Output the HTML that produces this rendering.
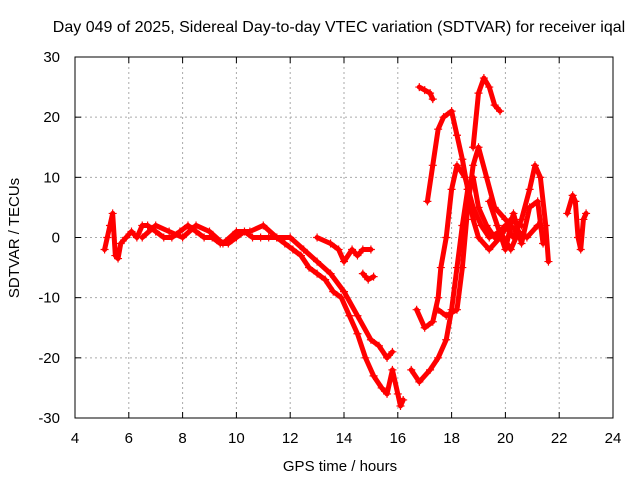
<!DOCTYPE html>
<html><head><meta charset="utf-8"><style>
body{margin:0;background:#fff;font-family:"Liberation Sans",sans-serif}
svg{display:block}
text{font-family:"Liberation Sans",sans-serif;font-size:15px;fill:#000}
</style></head><body>
<svg width="640" height="480">
<rect width="640" height="480" fill="#fff"/>
<text x="339" y="32" text-anchor="middle" style="font-size:16px">Day 049 of 2025, Sidereal Day-to-day VTEC variation (SDTVAR) for receiver iqal</text>
<g id="grid"></g>
<g id="axes"></g>
<g id="marks"></g>
<rect x="75" y="57" width="538" height="361" fill="none" stroke="#000" stroke-width="1"/>
<text x="340" y="471" text-anchor="middle">GPS time / hours</text>
<text transform="translate(19,238) rotate(-90)" text-anchor="middle">SDTVAR / TECUs</text>
</svg>
<script>
const xTicks=[4,6,8,10,12,14,16,18,20,22,24];
const yTicks=[-30,-20,-10,0,10,20,30];
const trackA=[[5.1,-2],[5.2,0],[5.3,2],[5.4,4],[5.5,-3],[5.6,-3.5],[5.7,-1],[5.9,0],[6.1,1],[6.3,0],[6.5,2],[6.7,2],[7,1],[7.3,0],[7.6,0],[7.9,1],[8.2,2],[8.5,1],[8.8,0],[9.1,0],[9.4,-1],[9.7,-1],[10,0],[10.3,1],[10.6,0],[10.9,0],[11.2,0],[11.5,0],[11.8,-1],[12.1,-2],[12.4,-3],[12.7,-5],[13,-6],[13.3,-7],[13.6,-9],[13.9,-10],[14.2,-13],[14.5,-16],[14.8,-20],[15.1,-23],[15.4,-25],[15.6,-26],[15.8,-22],[16,-26],[16.1,-28],[16.2,-27]];
const trackB=[[6.5,0],[7,2],[7.5,1],[8,0],[8.5,2],[9,1],[9.5,-1],[10,1],[10.5,1],[11,2],[11.5,0],[12,0],[12.5,-2],[13,-4],[13.5,-6],[14,-9],[14.5,-13],[15,-17],[15.3,-18],[15.6,-20],[15.8,-19]];
const trackC=[[13,0],[13.5,-1],[13.8,-2],[14,-4],[14.3,-2],[14.5,-3],[14.7,-2],[15,-2]];
const trackD=[[14.7,-6],[14.9,-7],[15.1,-6.5]];
const trackE=[[16.8,25],[17,24.5],[17.2,24],[17.3,23]];
const trackF=[[16.5,-22],[16.8,-24],[17.2,-22],[17.5,-20],[17.8,-17],[18,-12],[18.2,-5],[18.4,2],[18.6,8],[18.8,10],[19,5],[19.3,2],[19.6,0],[20,2],[20.3,0],[20.6,3],[20.9,8],[21.1,12],[21.3,10],[21.5,2],[21.6,-4]];
const trackG=[[16.7,-12],[17,-15],[17.3,-14],[17.5,-10],[17.6,-5],[17.8,0],[18,8],[18.2,12],[18.5,10],[18.8,5],[19.1,2],[19.4,0],[19.8,1],[20.2,-2],[20.5,1]];
const trackH=[[17.1,6],[17.3,12],[17.5,18],[17.7,20],[18,21],[18.2,17],[18.4,13],[18.6,8],[18.8,3],[19,0],[19.4,-2],[19.8,0],[20.2,3],[20.6,2]];
const trackI=[[18.8,15],[19,24],[19.2,26.5],[19.4,25],[19.6,22],[19.8,21]];
const trackJ=[[17.5,-12],[17.8,-13],[18.2,-12],[18.4,-5],[18.6,5],[18.8,12],[19,15],[19.3,10],[19.6,5],[20,3],[20.4,1],[20.8,0],[21.2,2]];
const trackK=[[22.3,4],[22.5,7],[22.6,6],[22.7,0],[22.8,-2],[22.9,3],[23,4]];
const trackL=[[19.4,6],[19.7,2],[20,-2],[20.3,4],[20.6,-1],[20.9,5],[21.2,6],[21.4,-1]];
const tracks=[trackA,trackB,trackC,trackD,trackE,trackF,trackG,trackH,trackI,trackJ,trackK,trackL];
const X=v=>75+(v-4)*(538/20), Y=v=>418-(v+30)*(361/60);
const NS='http://www.w3.org/2000/svg';
const g=document.getElementById('grid'),ax=document.getElementById('axes'),m=document.getElementById('marks');
function mk(t,a,p){const e=document.createElementNS(NS,t);for(const k in a)e.setAttribute(k,a[k]);p.appendChild(e);return e;}
xTicks.forEach(v=>{
 if(v>4&&v<24){const l=mk('line',{x1:X(v),x2:X(v),y1:57,y2:418,stroke:'#aaa','stroke-dasharray':'2,3'},g);
 
 }
 mk('line',{x1:X(v),x2:X(v),y1:418,y2:412,stroke:'#000'},ax);
 mk('line',{x1:X(v),x2:X(v),y1:57,y2:63,stroke:'#000'},ax);
 const t=mk('text',{x:X(v),y:443,'text-anchor':'middle'},ax);t.textContent=v;
 
 
});
yTicks.forEach(v=>{
 if(v>-30&&v<30){const l=mk('line',{x1:75,x2:613,y1:Y(v),y2:Y(v),stroke:'#aaa','stroke-dasharray':'2,3'},g);
 
 }
 mk('line',{x1:75,x2:81,y1:Y(v),y2:Y(v),stroke:'#000'},ax);
 mk('line',{x1:613,x2:607,y1:Y(v),y2:Y(v),stroke:'#000'},ax);
 const t=mk('text',{x:60,y:Y(v)+5,'text-anchor':'end'},ax);t.textContent=v;
 
 
});
tracks.forEach(tr=>{
 const pl=mk('polyline',{points:tr.map(p=>X(p[0])+','+Y(p[1])).join(' '),fill:'none',stroke:'#f00','stroke-width':5,'stroke-linejoin':'round','stroke-linecap':'round'},m);
 
 
 tr.forEach(p=>{
  const x=X(p[0]),y=Y(p[1]);
  const c=mk('path',{d:`M${x-4},${y}H${x+4}M${x},${y-4}V${y+4}`,stroke:'#f00','stroke-width':1.2},m);
  
  
 });
});
</script>
</body></html>
